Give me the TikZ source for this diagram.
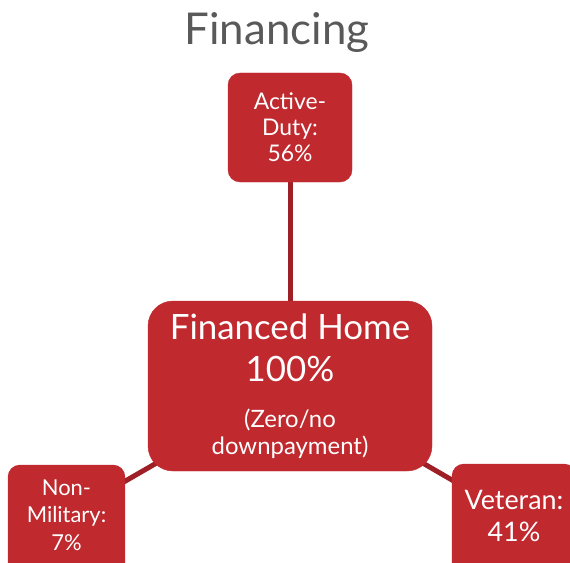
\documentclass[tikz,border=0pt]{standalone}
\usepackage{fontspec}
\setmainfont{Lato}
\usetikzlibrary{backgrounds}
\definecolor{boxred}{RGB}{192,41,46}
\definecolor{linered}{RGB}{158,31,37}
\definecolor{titlegrey}{RGB}{89,89,89}
\begin{document}
\begin{tikzpicture}[x=1bp,y=-1bp,
  box/.style={fill=boxred, draw=boxred, text=white, align=center, inner sep=0pt, rounded corners=12bp},
  openbox/.style={text=white, align=center, inner sep=0pt},
  boxfill/.style={fill=boxred, rounded corners=12bp},
  link/.style={draw=linered, line width=5bp}]
\useasboundingbox (0,0) rectangle (570,563);
\clip (0,0) rectangle (570,563);
\node[text=titlegrey, font=\fontsize{44}{50}\selectfont] (title) at (277,33) {Financing};
\node[box, minimum width=124bp, minimum height=109bp, font=\fontsize{23}{26}\selectfont] (active) at (290,127.5) {Active-\\Duty:\\56\%};
\node[box, minimum width=284bp, minimum height=170bp, rounded corners=25bp, font=\fontsize{35}{42}\selectfont] (home) at (290,386)
  {Financed Home\\100\%\\[4bp]\fontsize{24}{27}\selectfont (Zero/no\\[-15bp]\fontsize{24}{27}\selectfont downpayment)};
\node[openbox, minimum width=117bp, minimum height=100bp, font=\fontsize{22}{27.5}\selectfont] (nonmil) at (66.5,515) {Non-\\Military:\\7\%};
\node[openbox, minimum width=124bp, minimum height=104bp, font=\fontsize{27}{33}\selectfont] (veteran) at (514,516) {Veteran:\\41\%};
\begin{scope}[on background layer]
\draw[link] (home.center) -- (active.center);
\draw[link] (home.center) -- (nonmil.center);
\draw[link] (home.center) -- (veteran.center);
\fill[boxfill] (nonmil.north west) rectangle ([yshift=-30bp]nonmil.south east);
\fill[boxfill] (veteran.north west) rectangle ([yshift=-30bp]veteran.south east);
\end{scope}
\end{tikzpicture}
\end{document}
